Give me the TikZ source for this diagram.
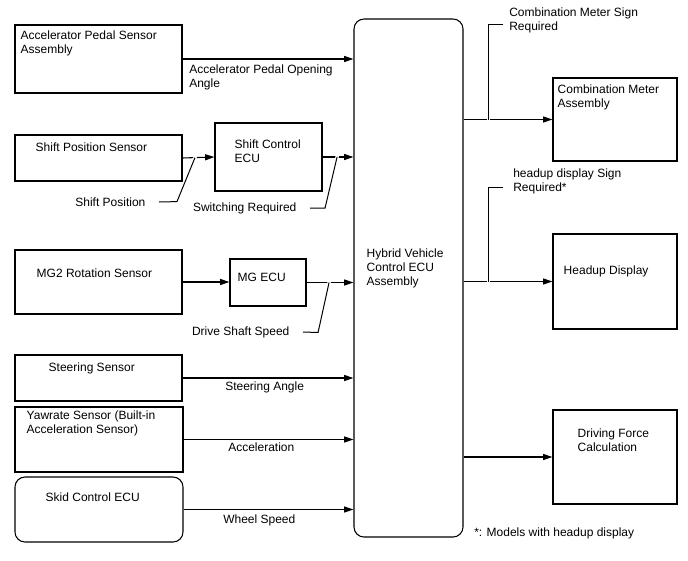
\documentclass[tikz,border=0pt]{standalone}
\usepackage{fontspec}
\setmainfont{Liberation Sans}
\usetikzlibrary{arrows.meta,calc,fit}

\begin{document}
\begin{tikzpicture}[
        x=0.75pt, y=-0.75pt,
        every node/.style={
            font=\fontsize{9}{10.5}\selectfont
        },
        unit/.style={draw, line width=0.8pt, inner sep=0pt},
        ecu/.style={unit, rounded corners=7.5pt},
        txt/.style={anchor=north west, inner sep=0pt, align=left},
        sig/.style={anchor=east, inner xsep=10pt, inner ysep=0pt},
        flow/.style={line width=0.8pt, -{Triangle[length=7pt, width=4.5pt]}},
        leader/.style={line width=0.75pt, preaction={draw=white, line width=2.5pt, line cap=rect}}
    ]
        \useasboundingbox (0,0) rectangle (688,560);

        % Hybrid Vehicle Control ECU
        \node[ecu, fit={(354,19) (463,537)}] (hv) {};
        \node[txt] (hvText) at ([shift={(13,230)}]hv.north west) {Hybrid Vehicle\\Control ECU\\Assembly};

        % Inputs
        \node[unit, fit={(15,25) (182,93)}] (aps) {};
        \node[txt] (apsText) at ([shift={(6,6)}]aps.north west) {Accelerator Pedal Sensor\\Assembly};

        \node[unit, fit={(15,135) (182,181)}] (sps) {};
        \node[txt] (spsText) at ([shift={(21,8)}]sps.north west) {Shift Position Sensor};

        \node[unit, fit={(215,123) (322,191)}] (sce) {};
        \node[txt] (sceText) at ([shift={(20,17)}]sce.north west) {Shift Control\\ECU};

        \node[unit, fit={(15,250) (182,314)}] (mg2) {};
        \node[txt] (mg2Text) at ([shift={(22,19)}]mg2.north west) {MG2 Rotation Sensor};

        \node[unit, fit={(230,259) (306,306)}] (mgecu) {};
        \node[txt] (mgecuText) at ([shift={(8,14)}]mgecu.north west) {MG ECU};

        \node[unit, fit={(15,355) (182,401)}] (steer) {};
        \node[txt] (steerText) at ([shift={(34,8)}]steer.north west) {Steering Sensor};

        \node[unit, fit={(15,407) (183,472)}] (yaw) {};
        \node[txt] (yawText) at ([shift={(12,4)}]yaw.north west) {Yawrate Sensor (Built-in\\Acceleration Sensor)};

        \node[ecu, fit={(15,477) (183,542)}] (skid) {};
        \node[txt] (skidText) at ([shift={(31,16)}]skid.north west) {Skid Control ECU};

        % Outputs
        \node[unit, fit={(553,78) (677,161)}] (cma) {};
        \node[txt] (cmaText) at ([shift={(5,7)}]cma.north west) {Combination Meter\\Assembly};

        \node[unit, fit={(553,234) (677,329)}] (hud) {};
        \node[txt] (hudText) at ([shift={(11,32)}]hud.north west) {Headup Display};

        \node[unit, fit={(553,410) (677,504)}] (dfc) {};
        \node[txt] (dfcText) at ([shift={(25,19)}]dfc.north west) {Driving Force\\Calculation};

        % Signals in
        \draw[flow] (aps.east) -- (aps.east -| hv.west);
        \node[txt] (apoSig) at (189,65) {Accelerator Pedal Opening\\Angle};

        \draw[flow] (sps.east) -- (sce.west);
        \node[sig] (spSig) at (159,202) {Shift Position};
        \draw[leader] ($(sps.east)!0.39!(sce.west)$) -- ++(-18,44) -- (spSig.east);

        \draw[flow] (sce.east) -- (sce.east -| hv.west);
        \node[sig] (srSig) at (310,208) {Switching Required};
        \draw[leader] ($(sce.east)!0.47!(sce.east -| hv.west)$) -- ++(-12,51) -- (srSig.east);

        \draw[flow] (mg2.east) -- (mg2.east -| mgecu.west);
        \draw[flow] (mgecu.east) -- (mgecu.east -| hv.west);
        \node[sig] (dssSig) at (303,332) {Drive Shaft Speed};
        \draw[leader] ($(mgecu.east)!0.48!(mgecu.east -| hv.west)$) -- ++(-11,50) -- (dssSig.east);

        \draw[flow] (steer.east) -- (steer.east -| hv.west);
        \node[txt] (saSig) at (225,382) {Steering Angle};

        \draw[flow] (yaw.east) -- (yaw.east -| hv.west);
        \node[txt] (accSig) at (228,443) {Acceleration};

        \draw[flow] (skid.east) -- (skid.east -| hv.west);
        \node[txt] (wsSig) at (223,515) {Wheel Speed};

        % Signals out
        \draw[flow] (hv.east |- cma.west) -- (cma.west);
        \node[txt] (cmsSig) at (509,8) {Combination Meter Sign\\Required};
        \coordinate (cmsTip) at (503,25);
        \draw[leader] ($(hv.east |- cma.west)!0.28!(cma.west)$) |- (cmsTip);

        \draw[flow] (hv.east |- hud.west) -- (hud.west);
        \node[txt] (hudSig) at (513,169) {headup display Sign\\Required*};
        \coordinate (hudTip) at (503,187);
        \draw[leader] ($(hv.east |- hud.west)!0.28!(hud.west)$) |- (hudTip);

        \draw[flow] (hv.east |- dfc.west) -- (dfc.west);

        \node[txt] (note) at (474,528) {*: Models with headup display};

    \end{tikzpicture}
\end{document}
